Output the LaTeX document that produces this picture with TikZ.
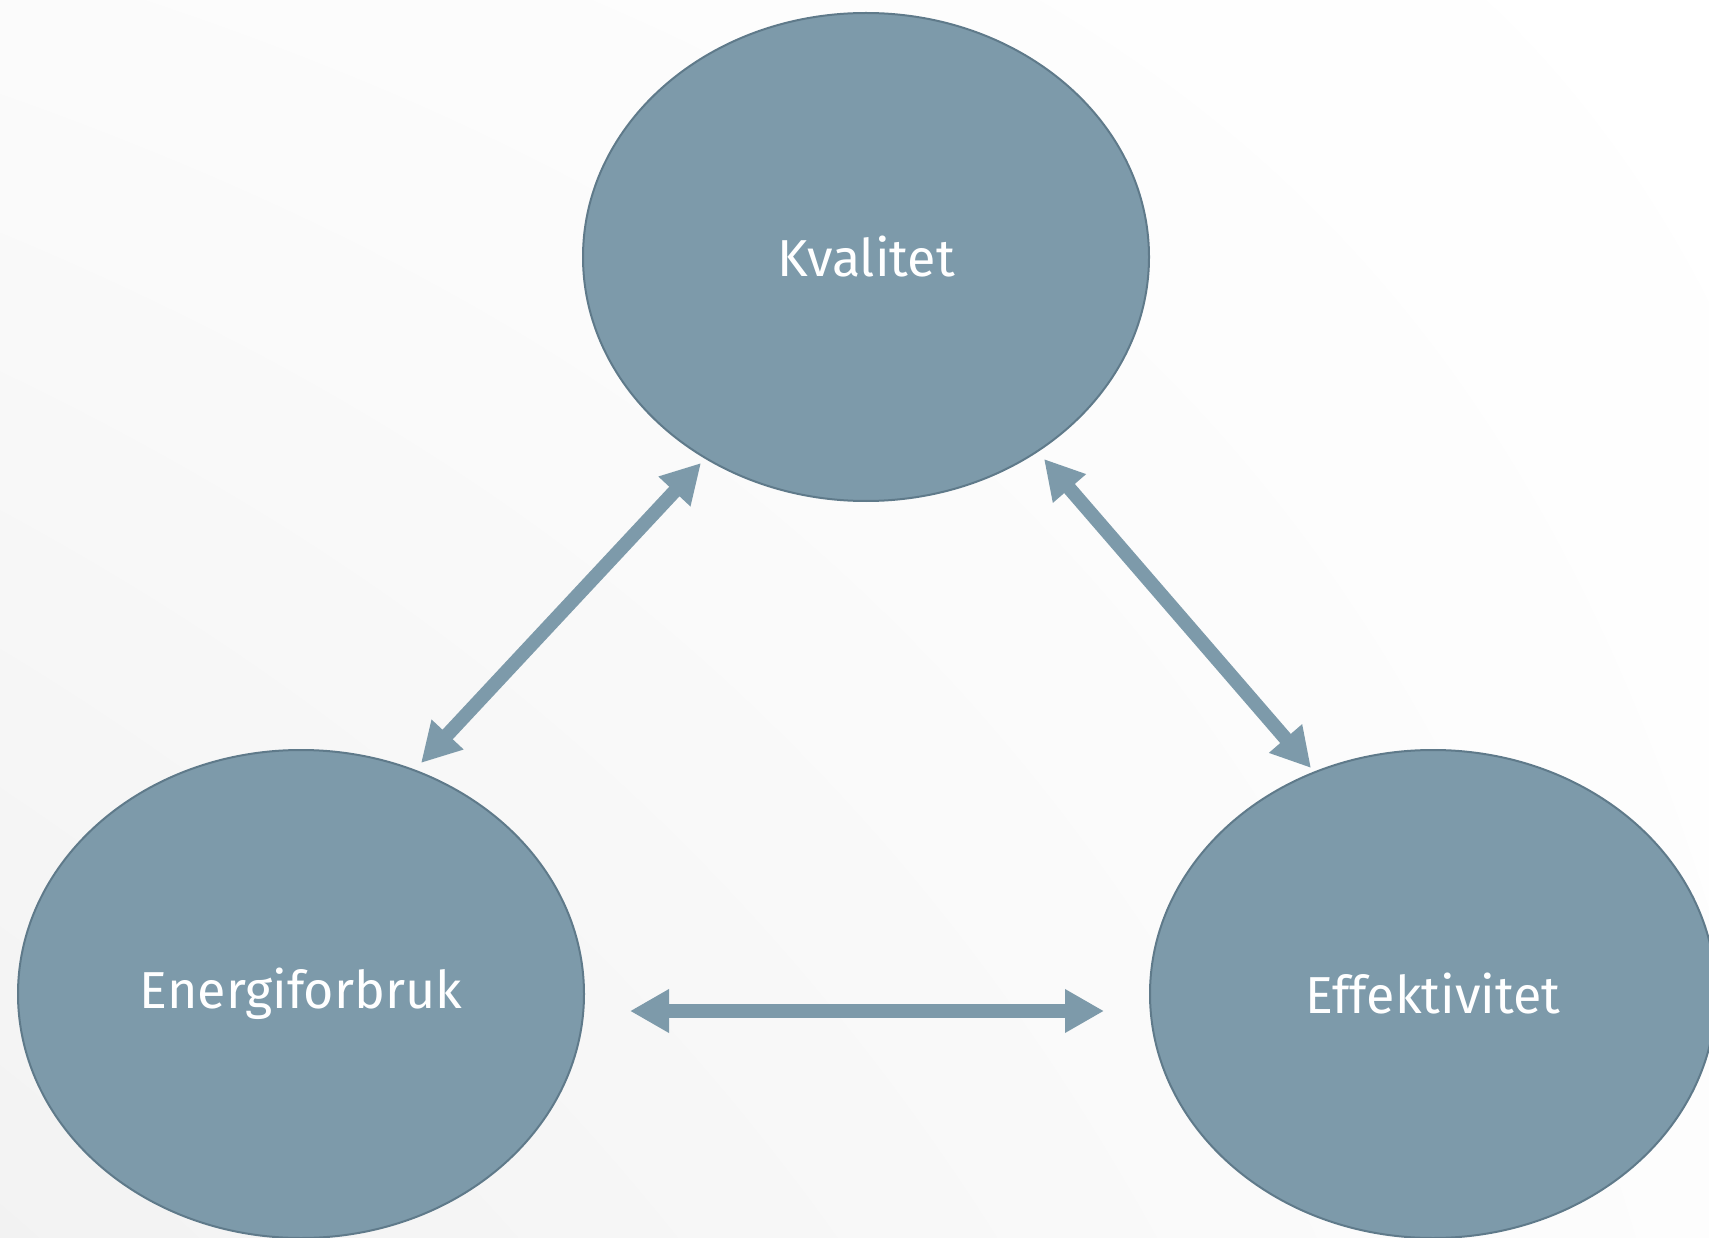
\documentclass[tikz,border=0pt]{standalone}
\usepackage{fontspec}
\setmainfont{Fira Sans}
\usetikzlibrary{shapes.geometric,arrows.meta,shadings}
\definecolor{nodefill}{HTML}{7D9AAA}
\definecolor{nodeline}{HTML}{5F7A8A}
\tikzset{
  bubble/.style={ellipse, fill=nodefill, draw=nodeline, line width=2pt,
    minimum width=566pt, minimum height=488pt, inner sep=0pt,
    text=white, font=\fontsize{52}{60}\selectfont},
  link/.style={draw=nodefill, line width=14pt,
    {Triangle[width=41pt,length=39pt]}-{Triangle[width=41pt,length=39pt]}}
}
\begin{document}
\begin{tikzpicture}[x=1pt,y=-1pt]
\useasboundingbox (0,0) rectangle (1709,1238);
\clip (0,0) rectangle (1709,1238);
\shade[upper left=black!1.5, upper right=white, lower left=black!5, lower right=black!0.8] (0,0) rectangle (1709,1238);
\node[bubble] (kval) at (866,257) {Kvalitet};
\node[bubble] (energi) at (301,994) {Energiforbruk};
\node[bubble] (effekt) at (1433,994) {Effektivitet};
\coordinate (a1) at (701,463);
\coordinate (a2) at (421,763);
\coordinate (b1) at (1044,459);
\coordinate (b2) at (1311,768);
\coordinate (c1) at (630,1011);
\coordinate (c2) at (1104,1011);
\draw[link] (a1) -- (a2);
\draw[link] (b1) -- (b2);
\draw[link] (c1) -- (c2);
\end{tikzpicture}
\end{document}
